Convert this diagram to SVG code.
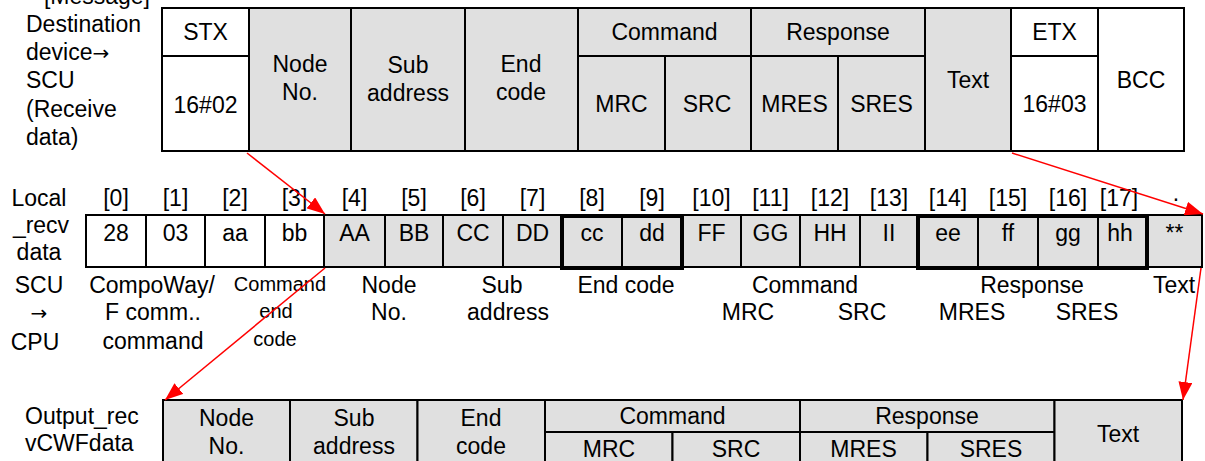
<svg xmlns="http://www.w3.org/2000/svg" width="1205" height="461" viewBox="0 0 1205 461">
<style>
text{font-family:"Liberation Sans",Arial,sans-serif;font-size:23px;fill:#000}
.c{text-anchor:middle}
.s{font-size:20px}
.ar{font-family:"DejaVu Sans",sans-serif;font-size:20px}
.g{fill:#e0e0e0;stroke:#000;stroke-width:2}
.w{fill:#fff;stroke:#000;stroke-width:2}
.bold{fill:none;stroke:#000;stroke-width:4}
.arr{stroke:#ff0000;stroke-width:1.5;fill:none;marker-end:url(#ah)}
</style>
<defs>
<marker id="ah" markerUnits="userSpaceOnUse" markerWidth="19" markerHeight="14" refX="18" refY="7" orient="auto">
<path d="M0,0 L18,7 L0,14 z" fill="#ff0000"/>
</marker>
</defs>
<rect width="1205" height="461" fill="#fff"/>

<g id="labels-left">
<text x="150" y="4" style="text-anchor:end">[Message]</text>
<text x="26" y="32">Destination</text>
<text x="26" y="60">device<tspan class="ar">→</tspan></text>
<text x="26" y="88">SCU</text>
<text x="26" y="117">(Receive</text>
<text x="26" y="145">data)</text>
<text class="c" x="39" y="206">Local</text>
<text class="c" x="41" y="233">_recv</text>
<text class="c" x="39" y="260">data</text>
<text class="c" x="39" y="293">SCU</text>
<text class="c ar" x="39" y="320">→</text>
<text class="c" x="35" y="350">CPU</text>
<text x="25" y="424">Output_rec</text>
<text x="25" y="451">vCWFdata</text>
</g>

<g id="msg-stx"><rect class="w" x="162" y="8" width="87" height="48"/><rect class="w" x="162" y="56" width="87" height="95"/><text class="c" x="205.5" y="40">STX</text><text class="c" x="205.5" y="113">16#02</text></g>
<g id="msg-node"><rect class="g" x="249" y="8" width="102" height="143"/><text class="c" x="300" y="72">Node</text><text class="c" x="300" y="100">No.</text></g>
<g id="msg-sub"><rect class="g" x="351" y="8" width="114" height="143"/><text class="c" x="408" y="73">Sub</text><text class="c" x="408" y="101">address</text></g>
<g id="msg-end"><rect class="g" x="465" y="8" width="113" height="143"/><text class="c" x="521" y="72">End</text><text class="c" x="521" y="100">code</text></g>
<g id="msg-command"><rect class="g" x="578" y="8" width="173" height="48"/><text class="c" x="664.5" y="40">Command</text>
<rect class="g" x="578" y="56" width="87" height="95"/><text class="c" x="621.5" y="112">MRC</text>
<rect class="g" x="665" y="56" width="86" height="95"/><text class="c" x="707" y="112">SRC</text></g>
<g id="msg-response"><rect class="g" x="751" y="8" width="174" height="48"/><text class="c" x="838" y="40">Response</text>
<rect class="g" x="751" y="56" width="87" height="95"/><text class="c" x="794.5" y="112">MRES</text>
<rect class="g" x="838" y="56" width="87" height="95"/><text class="c" x="881.5" y="112">SRES</text></g>
<g id="msg-text"><rect class="g" x="925" y="8" width="86" height="143"/><text class="c" x="968" y="88">Text</text></g>
<g id="msg-etx"><rect class="w" x="1011" y="8" width="87" height="48"/><rect class="w" x="1011" y="56" width="87" height="95"/><text class="c" x="1054.5" y="40">ETX</text><text class="c" x="1054.5" y="112">16#03</text></g>
<g id="msg-bcc"><rect class="w" x="1098" y="8" width="86" height="143"/><text class="c" x="1141" y="88">BCC</text></g>

<g id="recv-array">
<rect class="w" x="86" y="215" width="60" height="52"/><text class="c" x="116" y="241">28</text><text class="c" x="116" y="206">[0]</text>
<rect class="w" x="146" y="215" width="59" height="52"/><text class="c" x="175.5" y="241">03</text><text class="c" x="175.5" y="206">[1]</text>
<rect class="w" x="205" y="215" width="60" height="52"/><text class="c" x="235" y="241">aa</text><text class="c" x="235" y="206">[2]</text>
<rect class="w" x="265" y="215" width="59" height="52"/><text class="c" x="294.5" y="241">bb</text><text class="c" x="294.5" y="206">[3]</text>
<rect class="g" x="324" y="215" width="61" height="52"/><text class="c" x="354.5" y="241">AA</text><text class="c" x="354.5" y="206">[4]</text>
<rect class="g" x="385" y="215" width="58" height="52"/><text class="c" x="414" y="241">BB</text><text class="c" x="414" y="206">[5]</text>
<rect class="g" x="443" y="215" width="60" height="52"/><text class="c" x="473" y="241">CC</text><text class="c" x="473" y="206">[6]</text>
<rect class="g" x="503" y="215" width="59" height="52"/><text class="c" x="532.5" y="241">DD</text><text class="c" x="532.5" y="206">[7]</text>
<rect class="g" x="562" y="215" width="60" height="52"/><text class="c" x="592" y="241">cc</text><text class="c" x="592" y="206">[8]</text>
<rect class="g" x="622" y="215" width="60" height="52"/><text class="c" x="652" y="241">dd</text><text class="c" x="652" y="206">[9]</text>
<rect class="g" x="682" y="215" width="59" height="52"/><text class="c" x="711.5" y="241">FF</text><text class="c" x="711.5" y="206">[10]</text>
<rect class="g" x="741" y="215" width="59" height="52"/><text class="c" x="770.5" y="241">GG</text><text class="c" x="770.5" y="206">[11]</text>
<rect class="g" x="800" y="215" width="60" height="52"/><text class="c" x="830" y="241">HH</text><text class="c" x="830" y="206">[12]</text>
<rect class="g" x="860" y="215" width="58" height="52"/><text class="c" x="889" y="241">II</text><text class="c" x="889" y="206">[13]</text>
<rect class="g" x="918" y="215" width="60" height="52"/><text class="c" x="948" y="241">ee</text><text class="c" x="948" y="206">[14]</text>
<rect class="g" x="978" y="215" width="60" height="52"/><text class="c" x="1008" y="241">ff</text><text class="c" x="1008" y="206">[15]</text>
<rect class="g" x="1038" y="215" width="60" height="52"/><text class="c" x="1068" y="241">gg</text><text class="c" x="1068" y="206">[16]</text>
<rect class="g" x="1098" y="215" width="49" height="52"/><text class="c" x="1120" y="241">hh</text><text class="c" x="1119" y="206">[17]</text>
<rect class="g" x="1147" y="215" width="55" height="52"/><text class="c" x="1174.5" y="241">**</text><text class="c" x="1176" y="201">.</text>
<rect class="bold" x="562" y="216" width="120" height="52"/>
<rect class="bold" x="918" y="216" width="229" height="52"/>
</g>

<g id="array-labels">
<text class="c" x="152" y="293">CompoWay/</text>
<text class="c" x="153" y="320">F comm..</text>
<text class="c" x="153" y="349">command</text>
<text class="c s" x="280" y="291">Command</text>
<text class="c s" x="276" y="318">end</text>
<text class="c s" x="275" y="346">code</text>
<text class="c" x="389" y="293">Node</text>
<text class="c" x="389" y="320">No.</text>
<text class="c" x="502" y="293">Sub</text>
<text class="c" x="508" y="320">address</text>
<text class="c" x="626" y="293">End code</text>
<text class="c" x="805" y="293">Command</text>
<text class="c" x="748" y="320">MRC</text>
<text class="c" x="862" y="320">SRC</text>
<text class="c" x="1032" y="293">Response</text>
<text class="c" x="972" y="320">MRES</text>
<text class="c" x="1087" y="320">SRES</text>
<text class="c" x="1174" y="293">Text</text>
</g>

<g id="out-node"><rect class="g" x="163" y="400" width="127" height="70"/><text class="c" x="226.5" y="426">Node</text><text class="c" x="226.5" y="454">No.</text></g>
<g id="out-sub"><rect class="g" x="290" y="400" width="127.5" height="70"/><text class="c" x="354" y="426">Sub</text><text class="c" x="354" y="454">address</text></g>
<g id="out-end"><rect class="g" x="417.5" y="400" width="127.5" height="70"/><text class="c" x="481" y="426">End</text><text class="c" x="481" y="454">code</text></g>
<g id="out-command"><rect class="g" x="545" y="400" width="255" height="32"/><text class="c" x="672.5" y="424">Command</text>
<rect class="g" x="545" y="432" width="127.5" height="38"/><text class="c" x="609" y="457">MRC</text>
<rect class="g" x="672.5" y="432" width="127.5" height="38"/><text class="c" x="736" y="457">SRC</text></g>
<g id="out-response"><rect class="g" x="800" y="400" width="254.5" height="32"/><text class="c" x="927" y="424">Response</text>
<rect class="g" x="800" y="432" width="127.5" height="38"/><text class="c" x="863.5" y="457">MRES</text>
<rect class="g" x="927.5" y="432" width="127" height="38"/><text class="c" x="991" y="457">SRES</text></g>
<g id="out-text"><rect class="g" x="1054.5" y="400" width="127.5" height="70"/><text class="c" x="1118" y="442">Text</text></g>

<g id="connectors">
<line class="arr" x1="247" y1="153" x2="325" y2="214"/>
<line class="arr" x1="1012" y1="153" x2="1203" y2="214"/>
<line class="arr" x1="325" y1="268" x2="165" y2="400"/>
<line class="arr" x1="1201" y1="268" x2="1183" y2="400"/>
</g>
</svg>
